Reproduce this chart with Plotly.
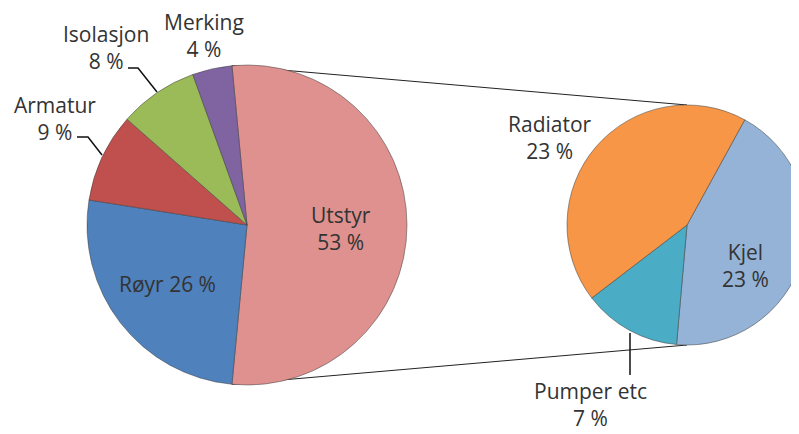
import math
import plotly.graph_objects as go

W, H = 799, 434
OFF = 8  # the page body adds an 8 px margin

# hovedsektor (main pie)
main_labels = ["Utstyr", "Røyr", "Armatur", "Isolasjon", "Merking"]
main_values = [53, 26, 9, 8, 4]
main_colors = ["#DE918F", "#4F81BD", "#C0504D", "#9BBB59", "#8064A2"]

# utsnitt av Utstyr (secondary pie)
sub_labels = ["Kjel", "Pumper etc", "Radiator"]
sub_values = [23, 7, 23]
sub_colors = ["#95B3D7", "#4BACC6", "#F79646"]

# label centres in screen pixels, and whether label is on one line
main_lab_pos = [(341, 228), (167, 284), (55, 118), (106, 47), (204, 36)]
main_one_line = [False, True, False, False, False]
sub_lab_pos = [(745, 265), (590, 404), (550, 137)]

# pie geometry in screen pixels
main_c, main_r = (247, 225), 160
sub_c, sub_r = (687, 225), 120


def px(x, y):
    return (x - OFF) / W, 1 - (y - OFF) / H


def domain(c, r):
    x0, y0 = px(c[0] - r, c[1] + r)
    x1, y1 = px(c[0] + r, c[1] - r)
    return dict(x=[max(x0, 0), min(x1, 1)], y=[max(y0, 0), min(y1, 1)])


half = main_values[0] / sum(main_values) * 180
main_rot = 90 - half
sub_first = sub_values[0] / sum(sub_values) * 360
sub_rot = 185 - sub_first

line = dict(color="rgba(60,60,60,0.5)", width=1)

fig = go.Figure()
fig.add_trace(go.Pie(
    labels=main_labels, values=main_values, sort=False, direction="clockwise",
    rotation=main_rot, textinfo="none", hoverinfo="label+value",
    marker=dict(colors=main_colors, line=line),
    domain=domain(main_c, main_r), showlegend=False,
))
fig.add_trace(go.Pie(
    labels=sub_labels, values=sub_values, sort=False, direction="clockwise",
    rotation=sub_rot, textinfo="none", hoverinfo="label+value",
    marker=dict(colors=sub_colors, line=line),
    domain=domain(sub_c, sub_r), showlegend=False,
))

font = dict(family="Open Sans", size=21, color="#333333")


def label(text, pos):
    x, y = px(*pos)
    fig.add_annotation(x=x, y=y, xref="paper", yref="paper", text=text,
                       xanchor="center", yanchor="middle",
                       showarrow=False, font=font, align="center")


for lab, val, pos, one in zip(main_labels, main_values, main_lab_pos, main_one_line):
    label(f"{lab}{' ' if one else '<br>'}{val} %", pos)

for lab, val, pos in zip(sub_labels, sub_values, sub_lab_pos):
    label(f"{lab}<br>{val} %", pos)

# connector lines from the Utstyr edges to the top/bottom of the secondary pie
a = math.radians(half - 90)
p_top = (main_c[0] - main_r * math.sin(a), main_c[1] - main_r * math.cos(a))
p_bot = (p_top[0], 2 * main_c[1] - p_top[1])
s_top = (sub_c[0], sub_c[1] - sub_r)
s_bot = (sub_c[0], sub_c[1] + sub_r)

shapes = []
for p, q in [(p_top, s_top), (p_bot, s_bot)]:
    x0, y0 = px(*p)
    x1, y1 = px(*q)
    shapes.append(dict(type="line", xref="paper", yref="paper", x0=x0, y0=y0, x1=x1, y1=y1,
                       line=dict(color="#222222", width=1), layer="below"))

# leader lines
leaders = [
    [(77, 137), (88, 137), (102, 155)],
    [(128, 68), (138, 68), (157, 92)],
    [(630, 333), (630, 375)],
]
for pts in leaders:
    path = ""
    for i, p in enumerate(pts):
        x, y = px(*p)
        path += ("M" if i == 0 else " L") + f" {x:.5f} {y:.5f}"
    shapes.append(dict(type="path", xref="paper", yref="paper", path=path,
                       line=dict(color="#111111", width=1.5)))

fig.update_layout(
    width=W, height=H, margin=dict(l=0, r=0, t=0, b=0),
    paper_bgcolor="white", plot_bgcolor="white", shapes=shapes,
)

fig.write_html("out.html")
